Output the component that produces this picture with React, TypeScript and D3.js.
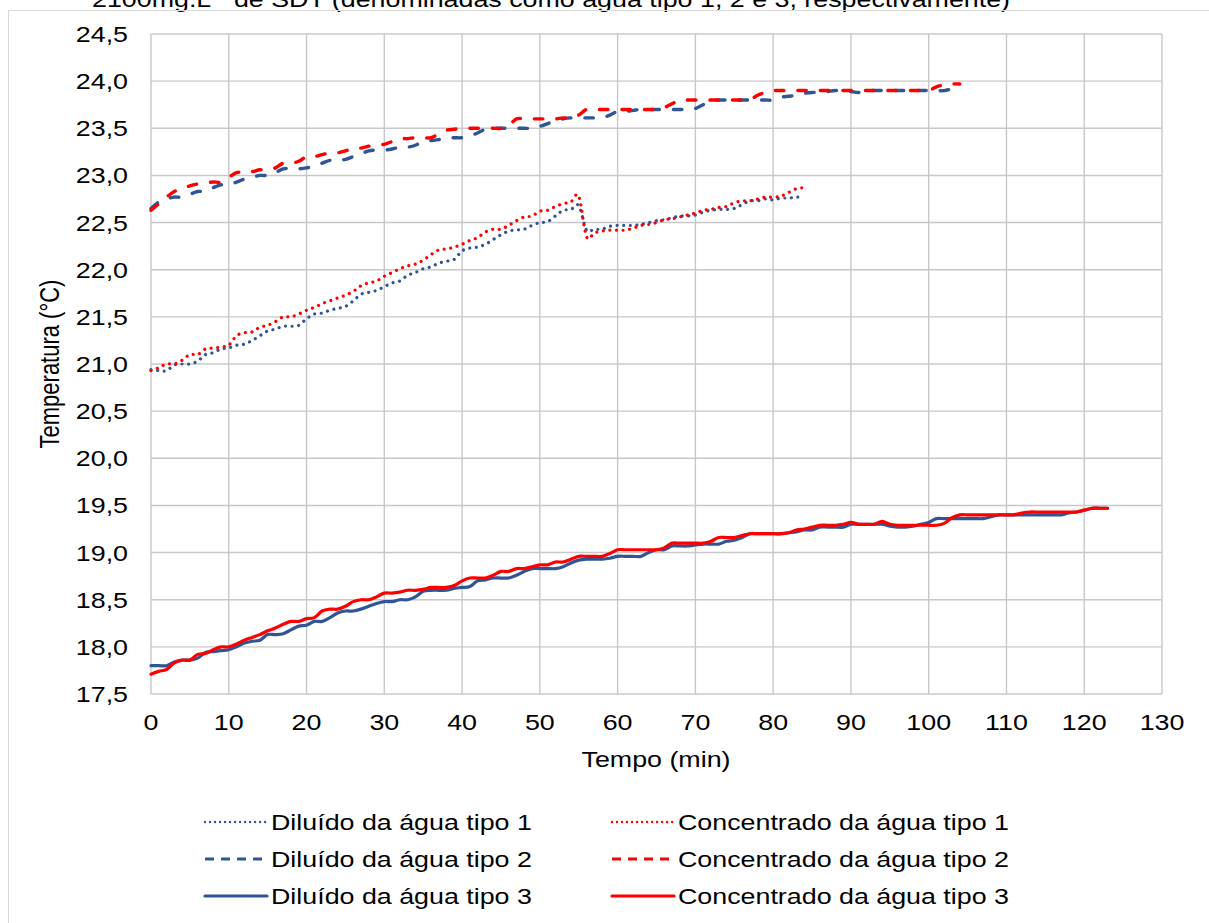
import React from "react";
import * as d3 from "d3";

// ---------- DATA (one value per minute, starting at 0 min) ----------
const xTicks = [0, 10, 20, 30, 40, 50, 60, 70, 80, 90, 100, 110, 120, 130];
const yTicks = [17.5, 18, 18.5, 19, 19.5, 20, 20.5, 21, 21.5, 22, 22.5, 23, 23.5, 24, 24.5];

const diluido1 = [
  20.94, 20.93, 20.93, 20.99, 21.0, 21.0, 21.03, 21.1, 21.12, 21.16,
  21.17, 21.2, 21.21, 21.25, 21.3, 21.35, 21.37, 21.4, 21.4, 21.41,
  21.48, 21.53, 21.54, 21.57, 21.59, 21.61, 21.67, 21.74, 21.76, 21.78,
  21.82, 21.86, 21.88, 21.94, 21.97, 22.01, 22.03, 22.07, 22.09, 22.11,
  22.2, 22.23, 22.24, 22.27, 22.32, 22.37, 22.41, 22.42, 22.43, 22.47,
  22.5, 22.51, 22.57, 22.63, 22.64, 22.68, 22.42, 22.43, 22.43, 22.46,
  22.47, 22.47, 22.47, 22.48, 22.5, 22.52, 22.53, 22.55, 22.57, 22.57,
  22.58, 22.61, 22.63, 22.64, 22.64, 22.65, 22.69, 22.73, 22.73, 22.75,
  22.74, 22.76, 22.76, 22.77, 22.77,
];
const concentrado1 = [
  20.93, 20.96, 21.0, 21.0, 21.04, 21.1, 21.1, 21.16, 21.17, 21.18,
  21.2, 21.3, 21.33, 21.34, 21.39, 21.41, 21.45, 21.5, 21.5, 21.53,
  21.57, 21.6, 21.64, 21.67, 21.7, 21.73, 21.77, 21.83, 21.86, 21.88,
  21.93, 21.97, 22.01, 22.04, 22.06, 22.1, 22.16, 22.21, 22.22, 22.24,
  22.27, 22.31, 22.34, 22.4, 22.43, 22.43, 22.47, 22.52, 22.56, 22.57,
  22.62, 22.63, 22.67, 22.7, 22.72, 22.78, 22.35, 22.39, 22.41, 22.42,
  22.42, 22.42, 22.44, 22.47, 22.48, 22.5, 22.53, 22.54, 22.56, 22.58,
  22.6, 22.63, 22.64, 22.66, 22.67, 22.71, 22.73, 22.73, 22.75, 22.77,
  22.77, 22.78, 22.82, 22.86, 22.87,
];
const diluido2 = [
  22.65, 22.72, 22.75, 22.77, 22.77, 22.8, 22.83, 22.83, 22.87, 22.9,
  22.9, 22.93, 22.96, 22.98, 23.0, 23.0, 23.03, 23.07, 23.07, 23.07,
  23.08, 23.1, 23.13, 23.16, 23.16, 23.17, 23.2, 23.23, 23.26, 23.27,
  23.27, 23.28, 23.3, 23.3, 23.32, 23.36, 23.37, 23.38, 23.4, 23.4,
  23.4, 23.42, 23.45, 23.49, 23.5, 23.5, 23.5, 23.5, 23.5, 23.5,
  23.52, 23.55, 23.58, 23.6, 23.61, 23.61, 23.61, 23.61, 23.61, 23.64,
  23.68, 23.68, 23.69, 23.7, 23.7, 23.7, 23.7, 23.7, 23.7, 23.7,
  23.71, 23.75, 23.79, 23.8, 23.8, 23.8, 23.8, 23.8, 23.8, 23.8,
  23.8, 23.83, 23.84, 23.85, 23.87, 23.88, 23.88, 23.89, 23.9, 23.9,
  23.89, 23.88, 23.9, 23.9, 23.9, 23.9, 23.9, 23.9, 23.9, 23.9,
  23.9, 23.9, 23.9, 23.92, 23.94,
];
const concentrado2 = [
  22.63, 22.7, 22.77, 22.83, 22.86, 22.89, 22.91, 22.92, 22.93, 22.93,
  22.98, 23.03, 23.03, 23.04, 23.06, 23.06, 23.08, 23.13, 23.13, 23.15,
  23.2, 23.2, 23.22, 23.24, 23.24, 23.26, 23.29, 23.29, 23.31, 23.33,
  23.33, 23.36, 23.39, 23.39, 23.4, 23.4, 23.4, 23.44, 23.48, 23.49,
  23.5, 23.5, 23.5, 23.5, 23.5, 23.5, 23.53, 23.6, 23.6, 23.6,
  23.6, 23.6, 23.6, 23.61, 23.61, 23.64, 23.7, 23.7, 23.7, 23.7,
  23.7, 23.7, 23.7, 23.7, 23.7, 23.7, 23.72, 23.76, 23.8, 23.8,
  23.8, 23.8, 23.8, 23.8, 23.8, 23.8, 23.8, 23.8, 23.85, 23.88,
  23.9, 23.9, 23.9, 23.9, 23.9, 23.9, 23.9, 23.9, 23.9, 23.9,
  23.9, 23.9, 23.9, 23.9, 23.9, 23.9, 23.9, 23.9, 23.9, 23.9,
  23.9, 23.94, 23.96, 23.97, 23.97,
];
const diluido3 = [
  17.8, 17.8, 17.8, 17.84, 17.86, 17.86, 17.88, 17.94, 17.95, 17.96,
  17.97, 18.0, 18.04, 18.06, 18.07, 18.13, 18.13, 18.14, 18.18, 18.22,
  18.23, 18.27, 18.27, 18.31, 18.36, 18.38, 18.38, 18.4, 18.43, 18.46,
  18.48, 18.48, 18.5, 18.5, 18.53, 18.59, 18.6, 18.6, 18.6, 18.62,
  18.63, 18.64, 18.7, 18.71, 18.73, 18.73, 18.73, 18.76, 18.8, 18.83,
  18.83, 18.83, 18.83, 18.85, 18.89, 18.92, 18.93, 18.93, 18.93, 18.94,
  18.96, 18.96, 18.96, 18.96, 19.0, 19.03, 19.03, 19.07, 19.07, 19.07,
  19.08, 19.09, 19.09, 19.09, 19.12, 19.13, 19.16, 19.2, 19.2, 19.2,
  19.2, 19.2, 19.21, 19.22, 19.24, 19.24, 19.27, 19.27, 19.27, 19.27,
  19.3, 19.3, 19.3, 19.3, 19.3, 19.28, 19.27, 19.27, 19.28, 19.3,
  19.32, 19.36, 19.36, 19.36, 19.36, 19.36, 19.36, 19.36, 19.38, 19.4,
  19.4, 19.4, 19.4, 19.4, 19.4, 19.4, 19.4, 19.4, 19.42, 19.43,
  19.45, 19.47, 19.47, 19.47,
];
const concentrado3 = [
  17.71, 17.74, 17.76, 17.83, 17.86, 17.86, 17.92, 17.93, 17.97, 18.0,
  18.0, 18.03, 18.07, 18.1, 18.13, 18.17, 18.2, 18.24, 18.27, 18.27,
  18.3, 18.31, 18.38, 18.4, 18.4, 18.43, 18.48, 18.5, 18.5, 18.53,
  18.57, 18.57, 18.58, 18.6, 18.6, 18.61, 18.63, 18.63, 18.63, 18.65,
  18.7, 18.73, 18.73, 18.73, 18.76, 18.8, 18.8, 18.83, 18.83, 18.85,
  18.87, 18.87, 18.9, 18.9, 18.93, 18.96, 18.96, 18.96, 18.96, 18.99,
  19.03, 19.03, 19.03, 19.03, 19.03, 19.03, 19.05, 19.1, 19.1, 19.1,
  19.1, 19.1, 19.12, 19.16, 19.16, 19.16, 19.18, 19.2, 19.2, 19.2,
  19.2, 19.2, 19.21, 19.24, 19.25, 19.27, 19.29, 19.29, 19.29, 19.3,
  19.32, 19.3, 19.3, 19.3, 19.33, 19.3, 19.29, 19.29, 19.29, 19.29,
  19.29, 19.29, 19.31, 19.37, 19.4, 19.4, 19.4, 19.4, 19.4, 19.4,
  19.4, 19.4, 19.42, 19.43, 19.43, 19.43, 19.43, 19.43, 19.43, 19.43,
  19.45, 19.47, 19.47, 19.47,
];

const seriesNames = [
  "Diluído da água tipo 1",
  "Concentrado da água tipo 1",
  "Diluído da água tipo 2",
  "Concentrado da água tipo 2",
  "Diluído da água tipo 3",
  "Concentrado da água tipo 3",
];
const titleText = "2100mg.L";
const titleRest = " de SDT (denominadas como água tipo 1, 2 e 3, respectivamente)";
const xTitle = "Tempo (min)";
const yTitle = "Temperatura (°C)";

// ---------- STYLE ----------
const BLUE = "#2F5597";
const RED = "#FF0000";
const FONT = "'Liberation Sans', Arial, sans-serif";
const FS = 22;
const SX = 1.22;

const series = [
  { name: seriesNames[0], data: diluido1, color: BLUE, kind: "dot" },
  { name: seriesNames[1], data: concentrado1, color: RED, kind: "dot" },
  { name: seriesNames[2], data: diluido2, color: BLUE, kind: "dash" },
  { name: seriesNames[3], data: concentrado2, color: RED, kind: "dash" },
  { name: seriesNames[4], data: diluido3, color: BLUE, kind: "solid" },
  { name: seriesNames[5], data: concentrado3, color: RED, kind: "solid" },
];

function strokeProps(kind: string, legend = false) {
  if (kind === "dot")
    return { strokeWidth: legend ? 2.4 : 3.2, strokeDasharray: legend ? "0.01 5" : "0.01 6.6", strokeLinecap: "round" as const };
  if (kind === "dash")
    return { strokeWidth: legend ? 3 : 3.4, strokeDasharray: legend ? "9 7" : "8.5 14", strokeLinecap: legend ? ("butt" as const) : ("round" as const) };
  return { strokeWidth: 3.2, strokeDasharray: undefined, strokeLinecap: "round" as const };
}

function T({ x, y, anchor = "start", rotate = false, children }: any) {
  return (
    <g transform={`translate(${x},${y}) scale(${SX},1)${rotate ? " rotate(-90)" : ""}`}>
      <text textAnchor={anchor} fontFamily={FONT} fontSize={FS} fill="#000">
        {children}
      </text>
    </g>
  );
}

export default function App() {
  const W = 1209;
  const H = 923;
  const x = d3.scaleLinear().domain([0, 130]).range([151, 1162]);
  const y = d3.scaleLinear().domain([17.5, 24.5]).range([694, 34]);

  const line = d3
    .line<number>()
    .x((_, i) => x(i))
    .y((d) => y(d))
    .curve(d3.curveCardinal.tension(0));

  const fmt = (v: number) => d3.format(".1f")(v).replace(".", ",");

  const legendCols = [205, 612];
  const legendRows = [822, 859, 896];

  return (
    <svg width={W} height={H} style={{ position: "absolute", left: 0, top: 0 }}>
      <rect x={0} y={0} width={W} height={H} fill="#fff" />
      {/* cut-off caption from the page */}
      <g transform={`translate(1010,7) scale(${SX},1)`}>
        <text textAnchor="end" fontFamily={FONT} fontSize={FS} fill="#000">
          {titleText}
          <tspan fontSize={14} dy={-9}>-1</tspan>
          <tspan dy={9}>{titleRest}</tspan>
        </text>
      </g>
      {/* chart area border */}
      <rect x={8.5} y={10.5} width={1300} height={1000} fill="none" stroke="#d9d9d9" strokeWidth={1} />

      {/* grid */}
      <g stroke="#c8c8c8" strokeWidth={1.4}>
        {xTicks.map((t) => (
          <line key={"gx" + t} x1={x(t)} x2={x(t)} y1={y(24.5)} y2={y(17.5)} />
        ))}
        {yTicks.map((t) => (
          <line key={"gy" + t} x1={x(0)} x2={x(130)} y1={y(t)} y2={y(t)} />
        ))}
      </g>

      {/* tick labels */}
      {yTicks.map((t) => (
        <T key={"ly" + t} x={128} y={y(t) + 8} anchor="end">
          {fmt(t)}
        </T>
      ))}
      {xTicks.map((t) => (
        <T key={"lx" + t} x={x(t)} y={730} anchor="middle">
          {t}
        </T>
      ))}
      <T x={656} y={767} anchor="middle">
        {xTitle}
      </T>
      <T x={59} y={364} anchor="middle" rotate>
        {yTitle}
      </T>

      {/* series */}
      <g fill="none">
        {series.map((s) => (
          <path key={s.name} d={line(s.data) || ""} stroke={s.color} strokeLinejoin="round" {...strokeProps(s.kind)} />
        ))}
      </g>

      {/* legend */}
      {series.map((s, i) => {
        const cx = legendCols[i % 2];
        const cy = legendRows[Math.floor(i / 2)];
        return (
          <g key={"lg" + i}>
            <line x1={cx} x2={cx + 62} y1={cy} y2={cy} stroke={s.color} fill="none" {...strokeProps(s.kind, true)} />
            <T x={cx + 66} y={cy + 8}>
              {s.name}
            </T>
          </g>
        );
      })}
    </svg>
  );
}
